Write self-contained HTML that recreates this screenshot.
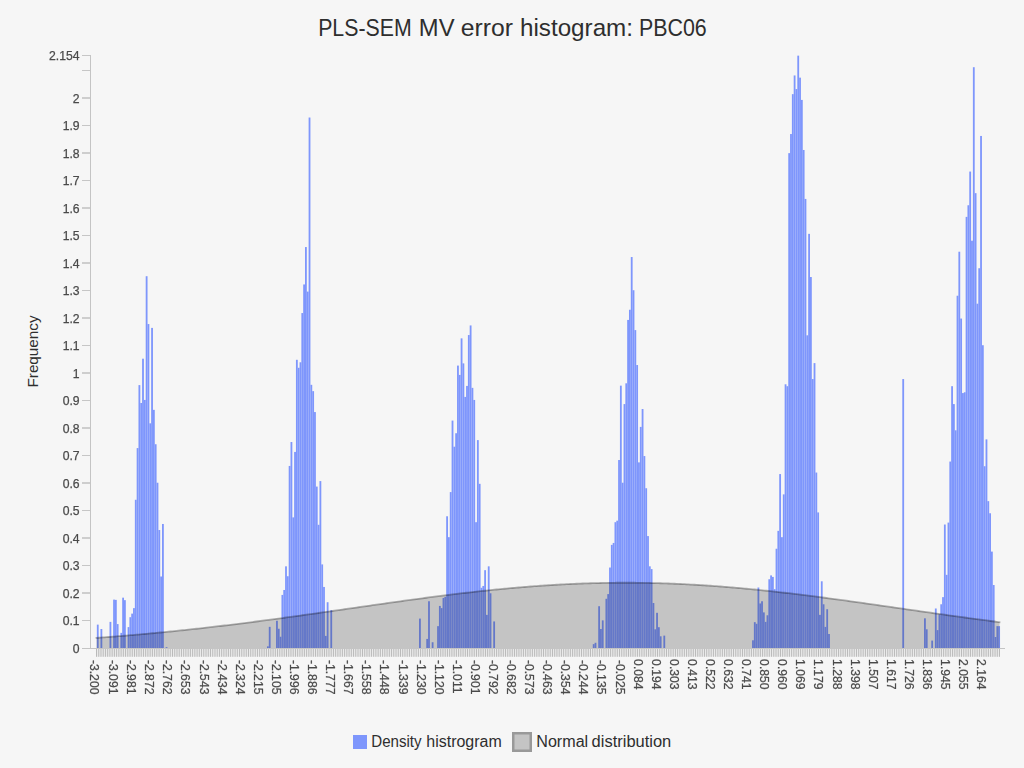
<!DOCTYPE html>
<html><head><meta charset="utf-8"><title>PLS-SEM MV error histogram: PBC06</title>
<style>html,body{margin:0;padding:0;background:#f6f6f6;overflow:hidden}svg{display:block}</style>
</head><body>
<svg width="1024" height="768" viewBox="0 0 1024 768" font-family='"Liberation Sans", sans-serif'>
<rect width="1024" height="768" fill="#f6f6f6"/>
<text x="318.15" y="35.75" font-size="24.6" fill="#2e2e2e" textLength="93.57" lengthAdjust="spacingAndGlyphs">PLS-SEM</text>
<text x="418.86" y="35.75" font-size="24.6" fill="#2e2e2e" textLength="35.68" lengthAdjust="spacingAndGlyphs">MV</text>
<text x="460.74" y="35.75" font-size="24.6" fill="#2e2e2e" textLength="52.22" lengthAdjust="spacingAndGlyphs">error</text>
<text x="519.98" y="35.75" font-size="24.6" fill="#2e2e2e" textLength="113.04" lengthAdjust="spacingAndGlyphs">histogram:</text>
<text x="638.90" y="35.75" font-size="24.6" fill="#2e2e2e" textLength="67.82" lengthAdjust="spacingAndGlyphs">PBC06</text>
<text transform="translate(38.1,351.5) rotate(-90)" text-anchor="middle" font-size="15.4" fill="#2e2e2e" textLength="72" lengthAdjust="spacingAndGlyphs">Frequency</text>
<g fill="#c4c4c4">
<rect x="90" y="55" width="1" height="594"/>
<rect x="82" y="648" width="923" height="1"/>
<rect x="82" y="620" width="8" height="1" fill="#c6c6c6"/>
<rect x="82" y="592" width="8" height="2" fill="#cecece"/>
<rect x="82" y="565" width="8" height="1" fill="#c6c6c6"/>
<rect x="82" y="537" width="8" height="2" fill="#cecece"/>
<rect x="82" y="510" width="8" height="1" fill="#c6c6c6"/>
<rect x="82" y="482" width="8" height="2" fill="#cecece"/>
<rect x="82" y="455" width="8" height="1" fill="#c6c6c6"/>
<rect x="82" y="427" width="8" height="2" fill="#cecece"/>
<rect x="82" y="400" width="8" height="1" fill="#c6c6c6"/>
<rect x="82" y="372" width="8" height="2" fill="#cecece"/>
<rect x="82" y="345" width="8" height="1" fill="#c6c6c6"/>
<rect x="82" y="317" width="8" height="2" fill="#cecece"/>
<rect x="82" y="290" width="8" height="1" fill="#c6c6c6"/>
<rect x="82" y="262" width="8" height="2" fill="#cecece"/>
<rect x="82" y="235" width="8" height="1" fill="#c6c6c6"/>
<rect x="82" y="207" width="8" height="2" fill="#cecece"/>
<rect x="82" y="180" width="8" height="1" fill="#c6c6c6"/>
<rect x="82" y="152" width="8" height="2" fill="#cecece"/>
<rect x="82" y="125" width="8" height="1" fill="#c6c6c6"/>
<rect x="82" y="97" width="8" height="2" fill="#cecece"/>
<rect x="82" y="70" width="8" height="1" fill="#c6c6c6"/>
<rect x="82" y="55" width="8" height="1" fill="#c6c6c6"/>
</g>
<g fill="#bababa">
<rect x="96.00" y="649" width="1" height="7.8"/>
<rect x="97.81" y="649" width="1" height="7.8"/>
<rect x="99.62" y="649" width="1" height="7.8"/>
<rect x="101.43" y="649" width="1" height="7.8"/>
<rect x="103.24" y="649" width="1" height="7.8"/>
<rect x="105.05" y="649" width="1" height="7.8"/>
<rect x="106.86" y="649" width="1" height="7.8"/>
<rect x="108.67" y="649" width="1" height="7.8"/>
<rect x="110.48" y="649" width="1" height="7.8"/>
<rect x="112.29" y="649" width="1" height="7.8"/>
<rect x="114.10" y="649" width="1" height="7.8"/>
<rect x="115.91" y="649" width="1" height="7.8"/>
<rect x="117.72" y="649" width="1" height="7.8"/>
<rect x="119.52" y="649" width="1" height="7.8"/>
<rect x="121.33" y="649" width="1" height="7.8"/>
<rect x="123.14" y="649" width="1" height="7.8"/>
<rect x="124.95" y="649" width="1" height="7.8"/>
<rect x="126.76" y="649" width="1" height="7.8"/>
<rect x="128.57" y="649" width="1" height="7.8"/>
<rect x="130.38" y="649" width="1" height="7.8"/>
<rect x="132.19" y="649" width="1" height="7.8"/>
<rect x="134.00" y="649" width="1" height="7.8"/>
<rect x="135.81" y="649" width="1" height="7.8"/>
<rect x="137.62" y="649" width="1" height="7.8"/>
<rect x="139.43" y="649" width="1" height="7.8"/>
<rect x="141.24" y="649" width="1" height="7.8"/>
<rect x="143.05" y="649" width="1" height="7.8"/>
<rect x="144.86" y="649" width="1" height="7.8"/>
<rect x="146.67" y="649" width="1" height="7.8"/>
<rect x="148.48" y="649" width="1" height="7.8"/>
<rect x="150.29" y="649" width="1" height="7.8"/>
<rect x="152.10" y="649" width="1" height="7.8"/>
<rect x="153.91" y="649" width="1" height="7.8"/>
<rect x="155.72" y="649" width="1" height="7.8"/>
<rect x="157.53" y="649" width="1" height="7.8"/>
<rect x="159.34" y="649" width="1" height="7.8"/>
<rect x="161.15" y="649" width="1" height="7.8"/>
<rect x="162.96" y="649" width="1" height="7.8"/>
<rect x="164.76" y="649" width="1" height="7.8"/>
<rect x="166.57" y="649" width="1" height="7.8"/>
<rect x="168.38" y="649" width="1" height="7.8"/>
<rect x="170.19" y="649" width="1" height="7.8"/>
<rect x="172.00" y="649" width="1" height="7.8"/>
<rect x="173.81" y="649" width="1" height="7.8"/>
<rect x="175.62" y="649" width="1" height="7.8"/>
<rect x="177.43" y="649" width="1" height="7.8"/>
<rect x="179.24" y="649" width="1" height="7.8"/>
<rect x="181.05" y="649" width="1" height="7.8"/>
<rect x="182.86" y="649" width="1" height="7.8"/>
<rect x="184.67" y="649" width="1" height="7.8"/>
<rect x="186.48" y="649" width="1" height="7.8"/>
<rect x="188.29" y="649" width="1" height="7.8"/>
<rect x="190.10" y="649" width="1" height="7.8"/>
<rect x="191.91" y="649" width="1" height="7.8"/>
<rect x="193.72" y="649" width="1" height="7.8"/>
<rect x="195.53" y="649" width="1" height="7.8"/>
<rect x="197.34" y="649" width="1" height="7.8"/>
<rect x="199.15" y="649" width="1" height="7.8"/>
<rect x="200.96" y="649" width="1" height="7.8"/>
<rect x="202.77" y="649" width="1" height="7.8"/>
<rect x="204.58" y="649" width="1" height="7.8"/>
<rect x="206.39" y="649" width="1" height="7.8"/>
<rect x="208.20" y="649" width="1" height="7.8"/>
<rect x="210.00" y="649" width="1" height="7.8"/>
<rect x="211.81" y="649" width="1" height="7.8"/>
<rect x="213.62" y="649" width="1" height="7.8"/>
<rect x="215.43" y="649" width="1" height="7.8"/>
<rect x="217.24" y="649" width="1" height="7.8"/>
<rect x="219.05" y="649" width="1" height="7.8"/>
<rect x="220.86" y="649" width="1" height="7.8"/>
<rect x="222.67" y="649" width="1" height="7.8"/>
<rect x="224.48" y="649" width="1" height="7.8"/>
<rect x="226.29" y="649" width="1" height="7.8"/>
<rect x="228.10" y="649" width="1" height="7.8"/>
<rect x="229.91" y="649" width="1" height="7.8"/>
<rect x="231.72" y="649" width="1" height="7.8"/>
<rect x="233.53" y="649" width="1" height="7.8"/>
<rect x="235.34" y="649" width="1" height="7.8"/>
<rect x="237.15" y="649" width="1" height="7.8"/>
<rect x="238.96" y="649" width="1" height="7.8"/>
<rect x="240.77" y="649" width="1" height="7.8"/>
<rect x="242.58" y="649" width="1" height="7.8"/>
<rect x="244.39" y="649" width="1" height="7.8"/>
<rect x="246.20" y="649" width="1" height="7.8"/>
<rect x="248.01" y="649" width="1" height="7.8"/>
<rect x="249.82" y="649" width="1" height="7.8"/>
<rect x="251.63" y="649" width="1" height="7.8"/>
<rect x="253.44" y="649" width="1" height="7.8"/>
<rect x="255.24" y="649" width="1" height="7.8"/>
<rect x="257.05" y="649" width="1" height="7.8"/>
<rect x="258.86" y="649" width="1" height="7.8"/>
<rect x="260.67" y="649" width="1" height="7.8"/>
<rect x="262.48" y="649" width="1" height="7.8"/>
<rect x="264.29" y="649" width="1" height="7.8"/>
<rect x="266.10" y="649" width="1" height="7.8"/>
<rect x="267.91" y="649" width="1" height="7.8"/>
<rect x="269.72" y="649" width="1" height="7.8"/>
<rect x="271.53" y="649" width="1" height="7.8"/>
<rect x="273.34" y="649" width="1" height="7.8"/>
<rect x="275.15" y="649" width="1" height="7.8"/>
<rect x="276.96" y="649" width="1" height="7.8"/>
<rect x="278.77" y="649" width="1" height="7.8"/>
<rect x="280.58" y="649" width="1" height="7.8"/>
<rect x="282.39" y="649" width="1" height="7.8"/>
<rect x="284.20" y="649" width="1" height="7.8"/>
<rect x="286.01" y="649" width="1" height="7.8"/>
<rect x="287.82" y="649" width="1" height="7.8"/>
<rect x="289.63" y="649" width="1" height="7.8"/>
<rect x="291.44" y="649" width="1" height="7.8"/>
<rect x="293.25" y="649" width="1" height="7.8"/>
<rect x="295.06" y="649" width="1" height="7.8"/>
<rect x="296.87" y="649" width="1" height="7.8"/>
<rect x="298.68" y="649" width="1" height="7.8"/>
<rect x="300.48" y="649" width="1" height="7.8"/>
<rect x="302.29" y="649" width="1" height="7.8"/>
<rect x="304.10" y="649" width="1" height="7.8"/>
<rect x="305.91" y="649" width="1" height="7.8"/>
<rect x="307.72" y="649" width="1" height="7.8"/>
<rect x="309.53" y="649" width="1" height="7.8"/>
<rect x="311.34" y="649" width="1" height="7.8"/>
<rect x="313.15" y="649" width="1" height="7.8"/>
<rect x="314.96" y="649" width="1" height="7.8"/>
<rect x="316.77" y="649" width="1" height="7.8"/>
<rect x="318.58" y="649" width="1" height="7.8"/>
<rect x="320.39" y="649" width="1" height="7.8"/>
<rect x="322.20" y="649" width="1" height="7.8"/>
<rect x="324.01" y="649" width="1" height="7.8"/>
<rect x="325.82" y="649" width="1" height="7.8"/>
<rect x="327.63" y="649" width="1" height="7.8"/>
<rect x="329.44" y="649" width="1" height="7.8"/>
<rect x="331.25" y="649" width="1" height="7.8"/>
<rect x="333.06" y="649" width="1" height="7.8"/>
<rect x="334.87" y="649" width="1" height="7.8"/>
<rect x="336.68" y="649" width="1" height="7.8"/>
<rect x="338.49" y="649" width="1" height="7.8"/>
<rect x="340.30" y="649" width="1" height="7.8"/>
<rect x="342.11" y="649" width="1" height="7.8"/>
<rect x="343.92" y="649" width="1" height="7.8"/>
<rect x="345.72" y="649" width="1" height="7.8"/>
<rect x="347.53" y="649" width="1" height="7.8"/>
<rect x="349.34" y="649" width="1" height="7.8"/>
<rect x="351.15" y="649" width="1" height="7.8"/>
<rect x="352.96" y="649" width="1" height="7.8"/>
<rect x="354.77" y="649" width="1" height="7.8"/>
<rect x="356.58" y="649" width="1" height="7.8"/>
<rect x="358.39" y="649" width="1" height="7.8"/>
<rect x="360.20" y="649" width="1" height="7.8"/>
<rect x="362.01" y="649" width="1" height="7.8"/>
<rect x="363.82" y="649" width="1" height="7.8"/>
<rect x="365.63" y="649" width="1" height="7.8"/>
<rect x="367.44" y="649" width="1" height="7.8"/>
<rect x="369.25" y="649" width="1" height="7.8"/>
<rect x="371.06" y="649" width="1" height="7.8"/>
<rect x="372.87" y="649" width="1" height="7.8"/>
<rect x="374.68" y="649" width="1" height="7.8"/>
<rect x="376.49" y="649" width="1" height="7.8"/>
<rect x="378.30" y="649" width="1" height="7.8"/>
<rect x="380.11" y="649" width="1" height="7.8"/>
<rect x="381.92" y="649" width="1" height="7.8"/>
<rect x="383.73" y="649" width="1" height="7.8"/>
<rect x="385.54" y="649" width="1" height="7.8"/>
<rect x="387.35" y="649" width="1" height="7.8"/>
<rect x="389.16" y="649" width="1" height="7.8"/>
<rect x="390.96" y="649" width="1" height="7.8"/>
<rect x="392.77" y="649" width="1" height="7.8"/>
<rect x="394.58" y="649" width="1" height="7.8"/>
<rect x="396.39" y="649" width="1" height="7.8"/>
<rect x="398.20" y="649" width="1" height="7.8"/>
<rect x="400.01" y="649" width="1" height="7.8"/>
<rect x="401.82" y="649" width="1" height="7.8"/>
<rect x="403.63" y="649" width="1" height="7.8"/>
<rect x="405.44" y="649" width="1" height="7.8"/>
<rect x="407.25" y="649" width="1" height="7.8"/>
<rect x="409.06" y="649" width="1" height="7.8"/>
<rect x="410.87" y="649" width="1" height="7.8"/>
<rect x="412.68" y="649" width="1" height="7.8"/>
<rect x="414.49" y="649" width="1" height="7.8"/>
<rect x="416.30" y="649" width="1" height="7.8"/>
<rect x="418.11" y="649" width="1" height="7.8"/>
<rect x="419.92" y="649" width="1" height="7.8"/>
<rect x="421.73" y="649" width="1" height="7.8"/>
<rect x="423.54" y="649" width="1" height="7.8"/>
<rect x="425.35" y="649" width="1" height="7.8"/>
<rect x="427.16" y="649" width="1" height="7.8"/>
<rect x="428.97" y="649" width="1" height="7.8"/>
<rect x="430.78" y="649" width="1" height="7.8"/>
<rect x="432.59" y="649" width="1" height="7.8"/>
<rect x="434.40" y="649" width="1" height="7.8"/>
<rect x="436.20" y="649" width="1" height="7.8"/>
<rect x="438.01" y="649" width="1" height="7.8"/>
<rect x="439.82" y="649" width="1" height="7.8"/>
<rect x="441.63" y="649" width="1" height="7.8"/>
<rect x="443.44" y="649" width="1" height="7.8"/>
<rect x="445.25" y="649" width="1" height="7.8"/>
<rect x="447.06" y="649" width="1" height="7.8"/>
<rect x="448.87" y="649" width="1" height="7.8"/>
<rect x="450.68" y="649" width="1" height="7.8"/>
<rect x="452.49" y="649" width="1" height="7.8"/>
<rect x="454.30" y="649" width="1" height="7.8"/>
<rect x="456.11" y="649" width="1" height="7.8"/>
<rect x="457.92" y="649" width="1" height="7.8"/>
<rect x="459.73" y="649" width="1" height="7.8"/>
<rect x="461.54" y="649" width="1" height="7.8"/>
<rect x="463.35" y="649" width="1" height="7.8"/>
<rect x="465.16" y="649" width="1" height="7.8"/>
<rect x="466.97" y="649" width="1" height="7.8"/>
<rect x="468.78" y="649" width="1" height="7.8"/>
<rect x="470.59" y="649" width="1" height="7.8"/>
<rect x="472.40" y="649" width="1" height="7.8"/>
<rect x="474.21" y="649" width="1" height="7.8"/>
<rect x="476.02" y="649" width="1" height="7.8"/>
<rect x="477.83" y="649" width="1" height="7.8"/>
<rect x="479.64" y="649" width="1" height="7.8"/>
<rect x="481.44" y="649" width="1" height="7.8"/>
<rect x="483.25" y="649" width="1" height="7.8"/>
<rect x="485.06" y="649" width="1" height="7.8"/>
<rect x="486.87" y="649" width="1" height="7.8"/>
<rect x="488.68" y="649" width="1" height="7.8"/>
<rect x="490.49" y="649" width="1" height="7.8"/>
<rect x="492.30" y="649" width="1" height="7.8"/>
<rect x="494.11" y="649" width="1" height="7.8"/>
<rect x="495.92" y="649" width="1" height="7.8"/>
<rect x="497.73" y="649" width="1" height="7.8"/>
<rect x="499.54" y="649" width="1" height="7.8"/>
<rect x="501.35" y="649" width="1" height="7.8"/>
<rect x="503.16" y="649" width="1" height="7.8"/>
<rect x="504.97" y="649" width="1" height="7.8"/>
<rect x="506.78" y="649" width="1" height="7.8"/>
<rect x="508.59" y="649" width="1" height="7.8"/>
<rect x="510.40" y="649" width="1" height="7.8"/>
<rect x="512.21" y="649" width="1" height="7.8"/>
<rect x="514.02" y="649" width="1" height="7.8"/>
<rect x="515.83" y="649" width="1" height="7.8"/>
<rect x="517.64" y="649" width="1" height="7.8"/>
<rect x="519.45" y="649" width="1" height="7.8"/>
<rect x="521.26" y="649" width="1" height="7.8"/>
<rect x="523.07" y="649" width="1" height="7.8"/>
<rect x="524.88" y="649" width="1" height="7.8"/>
<rect x="526.68" y="649" width="1" height="7.8"/>
<rect x="528.49" y="649" width="1" height="7.8"/>
<rect x="530.30" y="649" width="1" height="7.8"/>
<rect x="532.11" y="649" width="1" height="7.8"/>
<rect x="533.92" y="649" width="1" height="7.8"/>
<rect x="535.73" y="649" width="1" height="7.8"/>
<rect x="537.54" y="649" width="1" height="7.8"/>
<rect x="539.35" y="649" width="1" height="7.8"/>
<rect x="541.16" y="649" width="1" height="7.8"/>
<rect x="542.97" y="649" width="1" height="7.8"/>
<rect x="544.78" y="649" width="1" height="7.8"/>
<rect x="546.59" y="649" width="1" height="7.8"/>
<rect x="548.40" y="649" width="1" height="7.8"/>
<rect x="550.21" y="649" width="1" height="7.8"/>
<rect x="552.02" y="649" width="1" height="7.8"/>
<rect x="553.83" y="649" width="1" height="7.8"/>
<rect x="555.64" y="649" width="1" height="7.8"/>
<rect x="557.45" y="649" width="1" height="7.8"/>
<rect x="559.26" y="649" width="1" height="7.8"/>
<rect x="561.07" y="649" width="1" height="7.8"/>
<rect x="562.88" y="649" width="1" height="7.8"/>
<rect x="564.69" y="649" width="1" height="7.8"/>
<rect x="566.50" y="649" width="1" height="7.8"/>
<rect x="568.31" y="649" width="1" height="7.8"/>
<rect x="570.12" y="649" width="1" height="7.8"/>
<rect x="571.92" y="649" width="1" height="7.8"/>
<rect x="573.73" y="649" width="1" height="7.8"/>
<rect x="575.54" y="649" width="1" height="7.8"/>
<rect x="577.35" y="649" width="1" height="7.8"/>
<rect x="579.16" y="649" width="1" height="7.8"/>
<rect x="580.97" y="649" width="1" height="7.8"/>
<rect x="582.78" y="649" width="1" height="7.8"/>
<rect x="584.59" y="649" width="1" height="7.8"/>
<rect x="586.40" y="649" width="1" height="7.8"/>
<rect x="588.21" y="649" width="1" height="7.8"/>
<rect x="590.02" y="649" width="1" height="7.8"/>
<rect x="591.83" y="649" width="1" height="7.8"/>
<rect x="593.64" y="649" width="1" height="7.8"/>
<rect x="595.45" y="649" width="1" height="7.8"/>
<rect x="597.26" y="649" width="1" height="7.8"/>
<rect x="599.07" y="649" width="1" height="7.8"/>
<rect x="600.88" y="649" width="1" height="7.8"/>
<rect x="602.69" y="649" width="1" height="7.8"/>
<rect x="604.50" y="649" width="1" height="7.8"/>
<rect x="606.31" y="649" width="1" height="7.8"/>
<rect x="608.12" y="649" width="1" height="7.8"/>
<rect x="609.93" y="649" width="1" height="7.8"/>
<rect x="611.74" y="649" width="1" height="7.8"/>
<rect x="613.55" y="649" width="1" height="7.8"/>
<rect x="615.36" y="649" width="1" height="7.8"/>
<rect x="617.16" y="649" width="1" height="7.8"/>
<rect x="618.97" y="649" width="1" height="7.8"/>
<rect x="620.78" y="649" width="1" height="7.8"/>
<rect x="622.59" y="649" width="1" height="7.8"/>
<rect x="624.40" y="649" width="1" height="7.8"/>
<rect x="626.21" y="649" width="1" height="7.8"/>
<rect x="628.02" y="649" width="1" height="7.8"/>
<rect x="629.83" y="649" width="1" height="7.8"/>
<rect x="631.64" y="649" width="1" height="7.8"/>
<rect x="633.45" y="649" width="1" height="7.8"/>
<rect x="635.26" y="649" width="1" height="7.8"/>
<rect x="637.07" y="649" width="1" height="7.8"/>
<rect x="638.88" y="649" width="1" height="7.8"/>
<rect x="640.69" y="649" width="1" height="7.8"/>
<rect x="642.50" y="649" width="1" height="7.8"/>
<rect x="644.31" y="649" width="1" height="7.8"/>
<rect x="646.12" y="649" width="1" height="7.8"/>
<rect x="647.93" y="649" width="1" height="7.8"/>
<rect x="649.74" y="649" width="1" height="7.8"/>
<rect x="651.55" y="649" width="1" height="7.8"/>
<rect x="653.36" y="649" width="1" height="7.8"/>
<rect x="655.17" y="649" width="1" height="7.8"/>
<rect x="656.98" y="649" width="1" height="7.8"/>
<rect x="658.79" y="649" width="1" height="7.8"/>
<rect x="660.60" y="649" width="1" height="7.8"/>
<rect x="662.40" y="649" width="1" height="7.8"/>
<rect x="664.21" y="649" width="1" height="7.8"/>
<rect x="666.02" y="649" width="1" height="7.8"/>
<rect x="667.83" y="649" width="1" height="7.8"/>
<rect x="669.64" y="649" width="1" height="7.8"/>
<rect x="671.45" y="649" width="1" height="7.8"/>
<rect x="673.26" y="649" width="1" height="7.8"/>
<rect x="675.07" y="649" width="1" height="7.8"/>
<rect x="676.88" y="649" width="1" height="7.8"/>
<rect x="678.69" y="649" width="1" height="7.8"/>
<rect x="680.50" y="649" width="1" height="7.8"/>
<rect x="682.31" y="649" width="1" height="7.8"/>
<rect x="684.12" y="649" width="1" height="7.8"/>
<rect x="685.93" y="649" width="1" height="7.8"/>
<rect x="687.74" y="649" width="1" height="7.8"/>
<rect x="689.55" y="649" width="1" height="7.8"/>
<rect x="691.36" y="649" width="1" height="7.8"/>
<rect x="693.17" y="649" width="1" height="7.8"/>
<rect x="694.98" y="649" width="1" height="7.8"/>
<rect x="696.79" y="649" width="1" height="7.8"/>
<rect x="698.60" y="649" width="1" height="7.8"/>
<rect x="700.41" y="649" width="1" height="7.8"/>
<rect x="702.22" y="649" width="1" height="7.8"/>
<rect x="704.03" y="649" width="1" height="7.8"/>
<rect x="705.84" y="649" width="1" height="7.8"/>
<rect x="707.64" y="649" width="1" height="7.8"/>
<rect x="709.45" y="649" width="1" height="7.8"/>
<rect x="711.26" y="649" width="1" height="7.8"/>
<rect x="713.07" y="649" width="1" height="7.8"/>
<rect x="714.88" y="649" width="1" height="7.8"/>
<rect x="716.69" y="649" width="1" height="7.8"/>
<rect x="718.50" y="649" width="1" height="7.8"/>
<rect x="720.31" y="649" width="1" height="7.8"/>
<rect x="722.12" y="649" width="1" height="7.8"/>
<rect x="723.93" y="649" width="1" height="7.8"/>
<rect x="725.74" y="649" width="1" height="7.8"/>
<rect x="727.55" y="649" width="1" height="7.8"/>
<rect x="729.36" y="649" width="1" height="7.8"/>
<rect x="731.17" y="649" width="1" height="7.8"/>
<rect x="732.98" y="649" width="1" height="7.8"/>
<rect x="734.79" y="649" width="1" height="7.8"/>
<rect x="736.60" y="649" width="1" height="7.8"/>
<rect x="738.41" y="649" width="1" height="7.8"/>
<rect x="740.22" y="649" width="1" height="7.8"/>
<rect x="742.03" y="649" width="1" height="7.8"/>
<rect x="743.84" y="649" width="1" height="7.8"/>
<rect x="745.65" y="649" width="1" height="7.8"/>
<rect x="747.46" y="649" width="1" height="7.8"/>
<rect x="749.27" y="649" width="1" height="7.8"/>
<rect x="751.08" y="649" width="1" height="7.8"/>
<rect x="752.88" y="649" width="1" height="7.8"/>
<rect x="754.69" y="649" width="1" height="7.8"/>
<rect x="756.50" y="649" width="1" height="7.8"/>
<rect x="758.31" y="649" width="1" height="7.8"/>
<rect x="760.12" y="649" width="1" height="7.8"/>
<rect x="761.93" y="649" width="1" height="7.8"/>
<rect x="763.74" y="649" width="1" height="7.8"/>
<rect x="765.55" y="649" width="1" height="7.8"/>
<rect x="767.36" y="649" width="1" height="7.8"/>
<rect x="769.17" y="649" width="1" height="7.8"/>
<rect x="770.98" y="649" width="1" height="7.8"/>
<rect x="772.79" y="649" width="1" height="7.8"/>
<rect x="774.60" y="649" width="1" height="7.8"/>
<rect x="776.41" y="649" width="1" height="7.8"/>
<rect x="778.22" y="649" width="1" height="7.8"/>
<rect x="780.03" y="649" width="1" height="7.8"/>
<rect x="781.84" y="649" width="1" height="7.8"/>
<rect x="783.65" y="649" width="1" height="7.8"/>
<rect x="785.46" y="649" width="1" height="7.8"/>
<rect x="787.27" y="649" width="1" height="7.8"/>
<rect x="789.08" y="649" width="1" height="7.8"/>
<rect x="790.89" y="649" width="1" height="7.8"/>
<rect x="792.70" y="649" width="1" height="7.8"/>
<rect x="794.51" y="649" width="1" height="7.8"/>
<rect x="796.32" y="649" width="1" height="7.8"/>
<rect x="798.12" y="649" width="1" height="7.8"/>
<rect x="799.93" y="649" width="1" height="7.8"/>
<rect x="801.74" y="649" width="1" height="7.8"/>
<rect x="803.55" y="649" width="1" height="7.8"/>
<rect x="805.36" y="649" width="1" height="7.8"/>
<rect x="807.17" y="649" width="1" height="7.8"/>
<rect x="808.98" y="649" width="1" height="7.8"/>
<rect x="810.79" y="649" width="1" height="7.8"/>
<rect x="812.60" y="649" width="1" height="7.8"/>
<rect x="814.41" y="649" width="1" height="7.8"/>
<rect x="816.22" y="649" width="1" height="7.8"/>
<rect x="818.03" y="649" width="1" height="7.8"/>
<rect x="819.84" y="649" width="1" height="7.8"/>
<rect x="821.65" y="649" width="1" height="7.8"/>
<rect x="823.46" y="649" width="1" height="7.8"/>
<rect x="825.27" y="649" width="1" height="7.8"/>
<rect x="827.08" y="649" width="1" height="7.8"/>
<rect x="828.89" y="649" width="1" height="7.8"/>
<rect x="830.70" y="649" width="1" height="7.8"/>
<rect x="832.51" y="649" width="1" height="7.8"/>
<rect x="834.32" y="649" width="1" height="7.8"/>
<rect x="836.13" y="649" width="1" height="7.8"/>
<rect x="837.94" y="649" width="1" height="7.8"/>
<rect x="839.75" y="649" width="1" height="7.8"/>
<rect x="841.56" y="649" width="1" height="7.8"/>
<rect x="843.36" y="649" width="1" height="7.8"/>
<rect x="845.17" y="649" width="1" height="7.8"/>
<rect x="846.98" y="649" width="1" height="7.8"/>
<rect x="848.79" y="649" width="1" height="7.8"/>
<rect x="850.60" y="649" width="1" height="7.8"/>
<rect x="852.41" y="649" width="1" height="7.8"/>
<rect x="854.22" y="649" width="1" height="7.8"/>
<rect x="856.03" y="649" width="1" height="7.8"/>
<rect x="857.84" y="649" width="1" height="7.8"/>
<rect x="859.65" y="649" width="1" height="7.8"/>
<rect x="861.46" y="649" width="1" height="7.8"/>
<rect x="863.27" y="649" width="1" height="7.8"/>
<rect x="865.08" y="649" width="1" height="7.8"/>
<rect x="866.89" y="649" width="1" height="7.8"/>
<rect x="868.70" y="649" width="1" height="7.8"/>
<rect x="870.51" y="649" width="1" height="7.8"/>
<rect x="872.32" y="649" width="1" height="7.8"/>
<rect x="874.13" y="649" width="1" height="7.8"/>
<rect x="875.94" y="649" width="1" height="7.8"/>
<rect x="877.75" y="649" width="1" height="7.8"/>
<rect x="879.56" y="649" width="1" height="7.8"/>
<rect x="881.37" y="649" width="1" height="7.8"/>
<rect x="883.18" y="649" width="1" height="7.8"/>
<rect x="884.99" y="649" width="1" height="7.8"/>
<rect x="886.80" y="649" width="1" height="7.8"/>
<rect x="888.60" y="649" width="1" height="7.8"/>
<rect x="890.41" y="649" width="1" height="7.8"/>
<rect x="892.22" y="649" width="1" height="7.8"/>
<rect x="894.03" y="649" width="1" height="7.8"/>
<rect x="895.84" y="649" width="1" height="7.8"/>
<rect x="897.65" y="649" width="1" height="7.8"/>
<rect x="899.46" y="649" width="1" height="7.8"/>
<rect x="901.27" y="649" width="1" height="7.8"/>
<rect x="903.08" y="649" width="1" height="7.8"/>
<rect x="904.89" y="649" width="1" height="7.8"/>
<rect x="906.70" y="649" width="1" height="7.8"/>
<rect x="908.51" y="649" width="1" height="7.8"/>
<rect x="910.32" y="649" width="1" height="7.8"/>
<rect x="912.13" y="649" width="1" height="7.8"/>
<rect x="913.94" y="649" width="1" height="7.8"/>
<rect x="915.75" y="649" width="1" height="7.8"/>
<rect x="917.56" y="649" width="1" height="7.8"/>
<rect x="919.37" y="649" width="1" height="7.8"/>
<rect x="921.18" y="649" width="1" height="7.8"/>
<rect x="922.99" y="649" width="1" height="7.8"/>
<rect x="924.80" y="649" width="1" height="7.8"/>
<rect x="926.61" y="649" width="1" height="7.8"/>
<rect x="928.42" y="649" width="1" height="7.8"/>
<rect x="930.23" y="649" width="1" height="7.8"/>
<rect x="932.04" y="649" width="1" height="7.8"/>
<rect x="933.84" y="649" width="1" height="7.8"/>
<rect x="935.65" y="649" width="1" height="7.8"/>
<rect x="937.46" y="649" width="1" height="7.8"/>
<rect x="939.27" y="649" width="1" height="7.8"/>
<rect x="941.08" y="649" width="1" height="7.8"/>
<rect x="942.89" y="649" width="1" height="7.8"/>
<rect x="944.70" y="649" width="1" height="7.8"/>
<rect x="946.51" y="649" width="1" height="7.8"/>
<rect x="948.32" y="649" width="1" height="7.8"/>
<rect x="950.13" y="649" width="1" height="7.8"/>
<rect x="951.94" y="649" width="1" height="7.8"/>
<rect x="953.75" y="649" width="1" height="7.8"/>
<rect x="955.56" y="649" width="1" height="7.8"/>
<rect x="957.37" y="649" width="1" height="7.8"/>
<rect x="959.18" y="649" width="1" height="7.8"/>
<rect x="960.99" y="649" width="1" height="7.8"/>
<rect x="962.80" y="649" width="1" height="7.8"/>
<rect x="964.61" y="649" width="1" height="7.8"/>
<rect x="966.42" y="649" width="1" height="7.8"/>
<rect x="968.23" y="649" width="1" height="7.8"/>
<rect x="970.04" y="649" width="1" height="7.8"/>
<rect x="971.85" y="649" width="1" height="7.8"/>
<rect x="973.66" y="649" width="1" height="7.8"/>
<rect x="975.47" y="649" width="1" height="7.8"/>
<rect x="977.28" y="649" width="1" height="7.8"/>
<rect x="979.08" y="649" width="1" height="7.8"/>
<rect x="980.89" y="649" width="1" height="7.8"/>
<rect x="982.70" y="649" width="1" height="7.8"/>
<rect x="984.51" y="649" width="1" height="7.8"/>
<rect x="986.32" y="649" width="1" height="7.8"/>
<rect x="988.13" y="649" width="1" height="7.8"/>
<rect x="989.94" y="649" width="1" height="7.8"/>
<rect x="991.75" y="649" width="1" height="7.8"/>
<rect x="993.56" y="649" width="1" height="7.8"/>
<rect x="995.37" y="649" width="1" height="7.8"/>
<rect x="997.18" y="649" width="1" height="7.8"/>
<rect x="998.99" y="649" width="1" height="7.8"/>
</g>
<g fill="#7e96fc">
<rect x="96.85" y="624.62" width="1.81" height="23.38"/>
<rect x="100.47" y="629.02" width="1.81" height="18.98"/>
<rect x="109.52" y="621.88" width="1.81" height="26.12"/>
<rect x="113.14" y="599.60" width="1.81" height="48.40"/>
<rect x="114.95" y="599.88" width="1.81" height="48.12"/>
<rect x="116.76" y="624.08" width="1.81" height="23.92"/>
<rect x="120.38" y="632.88" width="1.81" height="15.12"/>
<rect x="122.19" y="597.67" width="1.81" height="50.32"/>
<rect x="124.00" y="600.15" width="1.81" height="47.85"/>
<rect x="127.62" y="627.10" width="1.81" height="20.90"/>
<rect x="129.43" y="617.20" width="1.81" height="30.80"/>
<rect x="131.24" y="613.62" width="1.81" height="34.38"/>
<rect x="133.05" y="608.12" width="1.81" height="39.88"/>
<rect x="134.86" y="499.77" width="1.81" height="148.23"/>
<rect x="136.67" y="448.08" width="1.81" height="199.92"/>
<rect x="138.48" y="385.10" width="1.81" height="262.90"/>
<rect x="140.29" y="402.98" width="1.81" height="245.03"/>
<rect x="142.10" y="358.70" width="1.81" height="289.30"/>
<rect x="143.91" y="399.95" width="1.81" height="248.05"/>
<rect x="145.72" y="276.20" width="1.81" height="371.80"/>
<rect x="147.53" y="324.05" width="1.81" height="323.95"/>
<rect x="149.34" y="423.33" width="1.81" height="224.67"/>
<rect x="151.15" y="327.90" width="1.81" height="320.10"/>
<rect x="152.96" y="409.85" width="1.81" height="238.15"/>
<rect x="154.77" y="444.23" width="1.81" height="203.78"/>
<rect x="156.58" y="482.73" width="1.81" height="165.28"/>
<rect x="158.39" y="530.02" width="1.81" height="117.97"/>
<rect x="160.20" y="576.50" width="1.81" height="71.50"/>
<rect x="162.01" y="523.98" width="1.81" height="124.03"/>
<rect x="165.63" y="647.17" width="1.81" height="0.83"/>
<rect x="266.99" y="646.35" width="1.81" height="1.65"/>
<rect x="268.80" y="626.83" width="1.81" height="21.18"/>
<rect x="276.04" y="620.77" width="1.81" height="27.23"/>
<rect x="277.85" y="628.75" width="1.81" height="19.25"/>
<rect x="279.66" y="636.73" width="1.81" height="11.28"/>
<rect x="281.47" y="594.92" width="1.81" height="53.08"/>
<rect x="283.28" y="589.98" width="1.81" height="58.02"/>
<rect x="285.09" y="566.33" width="1.81" height="81.67"/>
<rect x="286.90" y="576.23" width="1.81" height="71.78"/>
<rect x="288.71" y="465.95" width="1.81" height="182.05"/>
<rect x="290.52" y="442.02" width="1.81" height="205.97"/>
<rect x="292.33" y="517.38" width="1.81" height="130.62"/>
<rect x="294.14" y="451.93" width="1.81" height="196.07"/>
<rect x="295.95" y="359.80" width="1.81" height="288.20"/>
<rect x="297.76" y="367.78" width="1.81" height="280.22"/>
<rect x="299.57" y="362.28" width="1.81" height="285.72"/>
<rect x="301.38" y="313.05" width="1.81" height="334.95"/>
<rect x="303.19" y="284.45" width="1.81" height="363.55"/>
<rect x="305.00" y="247.05" width="1.81" height="400.95"/>
<rect x="306.81" y="291.60" width="1.81" height="356.40"/>
<rect x="308.62" y="117.52" width="1.81" height="530.48"/>
<rect x="310.43" y="384.82" width="1.81" height="263.18"/>
<rect x="312.24" y="391.15" width="1.81" height="256.85"/>
<rect x="314.05" y="412.05" width="1.81" height="235.95"/>
<rect x="315.86" y="486.58" width="1.81" height="161.42"/>
<rect x="317.67" y="524.80" width="1.81" height="123.20"/>
<rect x="319.48" y="481.08" width="1.81" height="166.92"/>
<rect x="321.29" y="564.40" width="1.81" height="83.60"/>
<rect x="323.10" y="586.95" width="1.81" height="61.05"/>
<rect x="324.91" y="635.90" width="1.81" height="12.10"/>
<rect x="326.72" y="602.21" width="1.81" height="45.79"/>
<rect x="330.34" y="610.19" width="1.81" height="37.81"/>
<rect x="419.03" y="618.58" width="1.81" height="29.43"/>
<rect x="426.27" y="638.92" width="1.81" height="9.08"/>
<rect x="428.08" y="601.25" width="1.81" height="46.75"/>
<rect x="431.70" y="642.23" width="1.81" height="5.78"/>
<rect x="437.13" y="626.14" width="1.81" height="21.86"/>
<rect x="438.94" y="605.92" width="1.81" height="42.07"/>
<rect x="440.75" y="608.12" width="1.81" height="39.88"/>
<rect x="442.56" y="597.95" width="1.81" height="50.05"/>
<rect x="444.37" y="596.85" width="1.81" height="51.15"/>
<rect x="446.18" y="516.27" width="1.81" height="131.72"/>
<rect x="447.99" y="537.17" width="1.81" height="110.83"/>
<rect x="449.80" y="492.08" width="1.81" height="155.92"/>
<rect x="451.61" y="420.58" width="1.81" height="227.42"/>
<rect x="453.42" y="446.70" width="1.81" height="201.30"/>
<rect x="455.23" y="433.23" width="1.81" height="214.78"/>
<rect x="457.04" y="365.58" width="1.81" height="282.42"/>
<rect x="458.85" y="374.93" width="1.81" height="273.07"/>
<rect x="460.66" y="338.35" width="1.81" height="309.65"/>
<rect x="462.47" y="363.38" width="1.81" height="284.62"/>
<rect x="464.28" y="396.92" width="1.81" height="251.08"/>
<rect x="466.09" y="385.93" width="1.81" height="262.07"/>
<rect x="467.90" y="335.05" width="1.81" height="312.95"/>
<rect x="469.71" y="325.43" width="1.81" height="322.57"/>
<rect x="471.52" y="387.85" width="1.81" height="260.15"/>
<rect x="473.33" y="399.95" width="1.81" height="248.05"/>
<rect x="475.14" y="522.19" width="1.81" height="125.81"/>
<rect x="476.95" y="440.10" width="1.81" height="207.90"/>
<rect x="478.76" y="483.83" width="1.81" height="164.17"/>
<rect x="480.57" y="587.77" width="1.81" height="60.23"/>
<rect x="482.38" y="585.96" width="1.81" height="62.04"/>
<rect x="484.19" y="570.17" width="1.81" height="77.82"/>
<rect x="486.00" y="614.86" width="1.81" height="33.14"/>
<rect x="487.81" y="566.33" width="1.81" height="81.67"/>
<rect x="489.62" y="593.27" width="1.81" height="54.73"/>
<rect x="493.24" y="621.43" width="1.81" height="26.57"/>
<rect x="592.79" y="644.15" width="1.81" height="3.85"/>
<rect x="594.60" y="642.77" width="1.81" height="5.22"/>
<rect x="598.22" y="606.20" width="1.81" height="41.80"/>
<rect x="600.03" y="629.02" width="1.81" height="18.98"/>
<rect x="601.84" y="620.34" width="1.81" height="27.66"/>
<rect x="605.46" y="598.77" width="1.81" height="49.23"/>
<rect x="607.27" y="594.10" width="1.81" height="53.90"/>
<rect x="609.08" y="567.53" width="1.81" height="80.47"/>
<rect x="610.89" y="544.88" width="1.81" height="103.12"/>
<rect x="612.70" y="542.95" width="1.81" height="105.05"/>
<rect x="614.51" y="522.19" width="1.81" height="125.81"/>
<rect x="616.32" y="520.67" width="1.81" height="127.33"/>
<rect x="618.13" y="460.01" width="1.81" height="187.99"/>
<rect x="619.94" y="385.65" width="1.81" height="262.35"/>
<rect x="621.75" y="482.73" width="1.81" height="165.28"/>
<rect x="623.56" y="404.07" width="1.81" height="243.93"/>
<rect x="625.37" y="383.29" width="1.81" height="264.71"/>
<rect x="627.18" y="319.93" width="1.81" height="328.07"/>
<rect x="628.99" y="309.75" width="1.81" height="338.25"/>
<rect x="630.80" y="257.03" width="1.81" height="390.97"/>
<rect x="632.61" y="290.23" width="1.81" height="357.77"/>
<rect x="634.42" y="330.10" width="1.81" height="317.90"/>
<rect x="636.23" y="365.03" width="1.81" height="282.97"/>
<rect x="638.04" y="462.38" width="1.81" height="185.62"/>
<rect x="639.85" y="426.90" width="1.81" height="221.10"/>
<rect x="641.66" y="409.02" width="1.81" height="238.97"/>
<rect x="643.47" y="456.05" width="1.81" height="191.95"/>
<rect x="645.28" y="488.23" width="1.81" height="159.77"/>
<rect x="647.09" y="536.08" width="1.81" height="111.92"/>
<rect x="648.90" y="566.33" width="1.81" height="81.67"/>
<rect x="650.71" y="569.08" width="1.81" height="78.92"/>
<rect x="652.52" y="603.01" width="1.81" height="44.99"/>
<rect x="654.33" y="629.30" width="1.81" height="18.70"/>
<rect x="656.14" y="612.80" width="1.81" height="35.20"/>
<rect x="657.95" y="627.21" width="1.81" height="20.79"/>
<rect x="659.76" y="636.28" width="1.81" height="11.71"/>
<rect x="663.38" y="635.62" width="1.81" height="12.38"/>
<rect x="752.07" y="640.30" width="1.81" height="7.70"/>
<rect x="753.88" y="622.15" width="1.81" height="25.85"/>
<rect x="755.69" y="623.80" width="1.81" height="24.20"/>
<rect x="757.50" y="587.50" width="1.81" height="60.50"/>
<rect x="759.31" y="603.45" width="1.81" height="44.55"/>
<rect x="761.12" y="601.25" width="1.81" height="46.75"/>
<rect x="762.93" y="612.39" width="1.81" height="35.61"/>
<rect x="764.74" y="621.88" width="1.81" height="26.12"/>
<rect x="766.55" y="615.27" width="1.81" height="32.73"/>
<rect x="768.36" y="579.25" width="1.81" height="68.75"/>
<rect x="770.17" y="575.40" width="1.81" height="72.60"/>
<rect x="771.98" y="576.91" width="1.81" height="71.09"/>
<rect x="773.79" y="589.15" width="1.81" height="58.85"/>
<rect x="775.60" y="548.73" width="1.81" height="99.27"/>
<rect x="777.41" y="530.85" width="1.81" height="117.15"/>
<rect x="779.22" y="474.06" width="1.81" height="173.94"/>
<rect x="781.03" y="537.17" width="1.81" height="110.83"/>
<rect x="782.84" y="494.38" width="1.81" height="153.62"/>
<rect x="784.65" y="384.28" width="1.81" height="263.72"/>
<rect x="786.46" y="386.20" width="1.81" height="261.80"/>
<rect x="788.27" y="153.14" width="1.81" height="494.86"/>
<rect x="790.08" y="134.02" width="1.81" height="513.98"/>
<rect x="791.89" y="94.15" width="1.81" height="553.85"/>
<rect x="793.70" y="75.45" width="1.81" height="572.55"/>
<rect x="795.51" y="89.06" width="1.81" height="558.94"/>
<rect x="797.32" y="55.65" width="1.81" height="592.35"/>
<rect x="799.13" y="77.65" width="1.81" height="570.35"/>
<rect x="800.94" y="99.92" width="1.81" height="548.08"/>
<rect x="802.75" y="149.98" width="1.81" height="498.02"/>
<rect x="804.56" y="198.93" width="1.81" height="449.07"/>
<rect x="806.37" y="335.32" width="1.81" height="312.68"/>
<rect x="808.18" y="233.85" width="1.81" height="414.15"/>
<rect x="809.99" y="277.03" width="1.81" height="370.97"/>
<rect x="811.80" y="379.05" width="1.81" height="268.95"/>
<rect x="813.61" y="363.10" width="1.81" height="284.90"/>
<rect x="815.42" y="472.55" width="1.81" height="175.45"/>
<rect x="817.23" y="512.42" width="1.81" height="135.57"/>
<rect x="819.04" y="614.86" width="1.81" height="33.14"/>
<rect x="820.85" y="581.28" width="1.81" height="66.72"/>
<rect x="822.66" y="604.27" width="1.81" height="43.73"/>
<rect x="824.47" y="626.91" width="1.81" height="21.09"/>
<rect x="826.28" y="609.23" width="1.81" height="38.77"/>
<rect x="828.09" y="633.98" width="1.81" height="14.02"/>
<rect x="902.30" y="379.05" width="1.81" height="268.95"/>
<rect x="924.02" y="618.30" width="1.81" height="29.70"/>
<rect x="925.83" y="629.30" width="1.81" height="18.70"/>
<rect x="931.26" y="640.58" width="1.81" height="7.42"/>
<rect x="934.88" y="608.48" width="1.81" height="39.52"/>
<rect x="936.69" y="630.12" width="1.81" height="17.88"/>
<rect x="938.50" y="614.45" width="1.81" height="33.55"/>
<rect x="940.31" y="604.27" width="1.81" height="43.73"/>
<rect x="942.12" y="597.12" width="1.81" height="50.88"/>
<rect x="943.93" y="524.52" width="1.81" height="123.48"/>
<rect x="945.74" y="574.85" width="1.81" height="73.15"/>
<rect x="947.55" y="522.60" width="1.81" height="125.40"/>
<rect x="949.36" y="461.55" width="1.81" height="186.45"/>
<rect x="951.17" y="386.20" width="1.81" height="261.80"/>
<rect x="952.98" y="404.07" width="1.81" height="243.93"/>
<rect x="954.79" y="430.31" width="1.81" height="217.69"/>
<rect x="956.60" y="295.73" width="1.81" height="352.27"/>
<rect x="958.41" y="251.72" width="1.81" height="396.28"/>
<rect x="960.22" y="318.55" width="1.81" height="329.45"/>
<rect x="962.03" y="393.07" width="1.81" height="254.93"/>
<rect x="963.84" y="392.25" width="1.81" height="255.75"/>
<rect x="965.65" y="216.88" width="1.81" height="431.12"/>
<rect x="967.46" y="205.25" width="1.81" height="442.75"/>
<rect x="969.27" y="171.56" width="1.81" height="476.44"/>
<rect x="971.08" y="240.72" width="1.81" height="407.28"/>
<rect x="972.89" y="67.20" width="1.81" height="580.80"/>
<rect x="974.70" y="193.15" width="1.81" height="454.85"/>
<rect x="976.51" y="303.70" width="1.81" height="344.30"/>
<rect x="978.32" y="268.23" width="1.81" height="379.77"/>
<rect x="980.13" y="135.95" width="1.81" height="512.05"/>
<rect x="981.94" y="345.23" width="1.81" height="302.77"/>
<rect x="983.75" y="466.23" width="1.81" height="181.78"/>
<rect x="985.56" y="439.38" width="1.81" height="208.62"/>
<rect x="987.37" y="501.15" width="1.81" height="146.85"/>
<rect x="989.18" y="513.25" width="1.81" height="134.75"/>
<rect x="990.99" y="551.59" width="1.81" height="96.42"/>
<rect x="992.80" y="585.02" width="1.81" height="62.98"/>
<rect x="994.61" y="637.00" width="1.81" height="11.00"/>
<rect x="996.42" y="626.14" width="1.81" height="21.86"/>
<rect x="998.23" y="626.14" width="1.81" height="21.86"/>
</g>
<polygon points="96.5,648.0 96.5,637.91 98.5,637.77 100.5,637.62 102.5,637.47 104.5,637.32 106.5,637.17 108.5,637.01 110.5,636.86 112.5,636.70 114.5,636.54 116.5,636.38 118.5,636.22 120.5,636.06 122.5,635.90 124.5,635.73 126.5,635.56 128.5,635.39 130.5,635.22 132.5,635.05 134.5,634.88 136.5,634.70 138.5,634.53 140.5,634.35 142.5,634.17 144.5,633.99 146.5,633.81 148.5,633.62 150.5,633.44 152.5,633.25 154.5,633.06 156.5,632.87 158.5,632.68 160.5,632.49 162.5,632.29 164.5,632.10 166.5,631.90 168.5,631.70 170.5,631.50 172.5,631.29 174.5,631.09 176.5,630.89 178.5,630.68 180.5,630.47 182.5,630.26 184.5,630.05 186.5,629.84 188.5,629.62 190.5,629.40 192.5,629.19 194.5,628.97 196.5,628.75 198.5,628.53 200.5,628.30 202.5,628.08 204.5,627.85 206.5,627.62 208.5,627.40 210.5,627.17 212.5,626.93 214.5,626.70 216.5,626.47 218.5,626.23 220.5,625.99 222.5,625.75 224.5,625.51 226.5,625.27 228.5,625.03 230.5,624.79 232.5,624.54 234.5,624.29 236.5,624.05 238.5,623.80 240.5,623.55 242.5,623.30 244.5,623.04 246.5,622.79 248.5,622.53 250.5,622.28 252.5,622.02 254.5,621.76 256.5,621.50 258.5,621.24 260.5,620.98 262.5,620.72 264.5,620.45 266.5,620.19 268.5,619.92 270.5,619.65 272.5,619.39 274.5,619.12 276.5,618.85 278.5,618.58 280.5,618.30 282.5,618.03 284.5,617.76 286.5,617.48 288.5,617.21 290.5,616.93 292.5,616.65 294.5,616.38 296.5,616.10 298.5,615.82 300.5,615.54 302.5,615.26 304.5,614.98 306.5,614.70 308.5,614.41 310.5,614.13 312.5,613.85 314.5,613.56 316.5,613.28 318.5,613.00 320.5,612.71 322.5,612.42 324.5,612.14 326.5,611.85 328.5,611.57 330.5,611.28 332.5,610.99 334.5,610.70 336.5,610.42 338.5,610.13 340.5,609.84 342.5,609.55 344.5,609.26 346.5,608.97 348.5,608.69 350.5,608.40 352.5,608.11 354.5,607.82 356.5,607.53 358.5,607.24 360.5,606.96 362.5,606.67 364.5,606.38 366.5,606.09 368.5,605.81 370.5,605.52 372.5,605.23 374.5,604.95 376.5,604.66 378.5,604.38 380.5,604.09 382.5,603.81 384.5,603.52 386.5,603.24 388.5,602.96 390.5,602.67 392.5,602.39 394.5,602.11 396.5,601.83 398.5,601.55 400.5,601.27 402.5,601.00 404.5,600.72 406.5,600.44 408.5,600.17 410.5,599.90 412.5,599.62 414.5,599.35 416.5,599.08 418.5,598.81 420.5,598.54 422.5,598.27 424.5,598.01 426.5,597.74 428.5,597.48 430.5,597.22 432.5,596.96 434.5,596.70 436.5,596.44 438.5,596.18 440.5,595.93 442.5,595.67 444.5,595.42 446.5,595.17 448.5,594.92 450.5,594.67 452.5,594.43 454.5,594.18 456.5,593.94 458.5,593.70 460.5,593.46 462.5,593.22 464.5,592.99 466.5,592.76 468.5,592.53 470.5,592.30 472.5,592.07 474.5,591.85 476.5,591.62 478.5,591.40 480.5,591.18 482.5,590.97 484.5,590.75 486.5,590.54 488.5,590.33 490.5,590.12 492.5,589.92 494.5,589.72 496.5,589.51 498.5,589.32 500.5,589.12 502.5,588.93 504.5,588.74 506.5,588.55 508.5,588.36 510.5,588.18 512.5,588.00 514.5,587.82 516.5,587.65 518.5,587.48 520.5,587.31 522.5,587.14 524.5,586.98 526.5,586.81 528.5,586.66 530.5,586.50 532.5,586.35 534.5,586.20 536.5,586.05 538.5,585.91 540.5,585.77 542.5,585.63 544.5,585.49 546.5,585.36 548.5,585.23 550.5,585.11 552.5,584.98 554.5,584.86 556.5,584.75 558.5,584.63 560.5,584.52 562.5,584.41 564.5,584.31 566.5,584.21 568.5,584.11 570.5,584.02 572.5,583.93 574.5,583.84 576.5,583.75 578.5,583.67 580.5,583.59 582.5,583.52 584.5,583.45 586.5,583.38 588.5,583.32 590.5,583.25 592.5,583.20 594.5,583.14 596.5,583.09 598.5,583.04 600.5,583.00 602.5,582.96 604.5,582.92 606.5,582.88 608.5,582.85 610.5,582.83 612.5,582.80 614.5,582.78 616.5,582.76 618.5,582.75 620.5,582.74 622.5,582.73 624.5,582.73 626.5,582.73 628.5,582.73 630.5,582.74 632.5,582.75 634.5,582.76 636.5,582.78 638.5,582.80 640.5,582.83 642.5,582.85 644.5,582.89 646.5,582.92 648.5,582.96 650.5,583.00 652.5,583.04 654.5,583.09 656.5,583.14 658.5,583.20 660.5,583.26 662.5,583.32 664.5,583.38 666.5,583.45 668.5,583.52 670.5,583.60 672.5,583.67 674.5,583.76 676.5,583.84 678.5,583.93 680.5,584.02 682.5,584.11 684.5,584.21 686.5,584.31 688.5,584.42 690.5,584.53 692.5,584.64 694.5,584.75 696.5,584.87 698.5,584.99 700.5,585.11 702.5,585.24 704.5,585.36 706.5,585.50 708.5,585.63 710.5,585.77 712.5,585.91 714.5,586.05 716.5,586.20 718.5,586.35 720.5,586.50 722.5,586.66 724.5,586.82 726.5,586.98 728.5,587.14 730.5,587.31 732.5,587.48 734.5,587.65 736.5,587.83 738.5,588.01 740.5,588.19 742.5,588.37 744.5,588.55 746.5,588.74 748.5,588.93 750.5,589.13 752.5,589.32 754.5,589.52 756.5,589.72 758.5,589.92 760.5,590.13 762.5,590.34 764.5,590.55 766.5,590.76 768.5,590.97 770.5,591.19 772.5,591.41 774.5,591.63 776.5,591.85 778.5,592.08 780.5,592.30 782.5,592.53 784.5,592.76 786.5,593.00 788.5,593.23 790.5,593.47 792.5,593.71 794.5,593.95 796.5,594.19 798.5,594.43 800.5,594.68 802.5,594.93 804.5,595.18 806.5,595.43 808.5,595.68 810.5,595.93 812.5,596.19 814.5,596.44 816.5,596.70 818.5,596.96 820.5,597.22 822.5,597.49 824.5,597.75 826.5,598.01 828.5,598.28 830.5,598.55 832.5,598.82 834.5,599.09 836.5,599.36 838.5,599.63 840.5,599.90 842.5,600.18 844.5,600.45 846.5,600.73 848.5,601.00 850.5,601.28 852.5,601.56 854.5,601.84 856.5,602.12 858.5,602.40 860.5,602.68 862.5,602.96 864.5,603.25 866.5,603.53 868.5,603.81 870.5,604.10 872.5,604.38 874.5,604.67 876.5,604.95 878.5,605.24 880.5,605.53 882.5,605.81 884.5,606.10 886.5,606.39 888.5,606.68 890.5,606.96 892.5,607.25 894.5,607.54 896.5,607.83 898.5,608.12 900.5,608.41 902.5,608.69 904.5,608.98 906.5,609.27 908.5,609.56 910.5,609.85 912.5,610.14 914.5,610.42 916.5,610.71 918.5,611.00 920.5,611.29 922.5,611.57 924.5,611.86 926.5,612.15 928.5,612.43 930.5,612.72 932.5,613.00 934.5,613.29 936.5,613.57 938.5,613.86 940.5,614.14 942.5,614.42 944.5,614.70 946.5,614.99 948.5,615.27 950.5,615.55 952.5,615.83 954.5,616.11 956.5,616.38 958.5,616.66 960.5,616.94 962.5,617.21 964.5,617.49 966.5,617.76 968.5,618.04 970.5,618.31 972.5,618.58 974.5,618.85 976.5,619.12 978.5,619.39 980.5,619.66 982.5,619.93 984.5,620.19 986.5,620.46 988.5,620.72 990.5,620.99 992.5,621.25 994.5,621.51 996.5,621.77 998.5,622.03 999.5,622.16 999.5,648.0" fill="rgba(0,0,0,0.2)"/>
<polyline points="96.5,637.91 98.5,637.77 100.5,637.62 102.5,637.47 104.5,637.32 106.5,637.17 108.5,637.01 110.5,636.86 112.5,636.70 114.5,636.54 116.5,636.38 118.5,636.22 120.5,636.06 122.5,635.90 124.5,635.73 126.5,635.56 128.5,635.39 130.5,635.22 132.5,635.05 134.5,634.88 136.5,634.70 138.5,634.53 140.5,634.35 142.5,634.17 144.5,633.99 146.5,633.81 148.5,633.62 150.5,633.44 152.5,633.25 154.5,633.06 156.5,632.87 158.5,632.68 160.5,632.49 162.5,632.29 164.5,632.10 166.5,631.90 168.5,631.70 170.5,631.50 172.5,631.29 174.5,631.09 176.5,630.89 178.5,630.68 180.5,630.47 182.5,630.26 184.5,630.05 186.5,629.84 188.5,629.62 190.5,629.40 192.5,629.19 194.5,628.97 196.5,628.75 198.5,628.53 200.5,628.30 202.5,628.08 204.5,627.85 206.5,627.62 208.5,627.40 210.5,627.17 212.5,626.93 214.5,626.70 216.5,626.47 218.5,626.23 220.5,625.99 222.5,625.75 224.5,625.51 226.5,625.27 228.5,625.03 230.5,624.79 232.5,624.54 234.5,624.29 236.5,624.05 238.5,623.80 240.5,623.55 242.5,623.30 244.5,623.04 246.5,622.79 248.5,622.53 250.5,622.28 252.5,622.02 254.5,621.76 256.5,621.50 258.5,621.24 260.5,620.98 262.5,620.72 264.5,620.45 266.5,620.19 268.5,619.92 270.5,619.65 272.5,619.39 274.5,619.12 276.5,618.85 278.5,618.58 280.5,618.30 282.5,618.03 284.5,617.76 286.5,617.48 288.5,617.21 290.5,616.93 292.5,616.65 294.5,616.38 296.5,616.10 298.5,615.82 300.5,615.54 302.5,615.26 304.5,614.98 306.5,614.70 308.5,614.41 310.5,614.13 312.5,613.85 314.5,613.56 316.5,613.28 318.5,613.00 320.5,612.71 322.5,612.42 324.5,612.14 326.5,611.85 328.5,611.57 330.5,611.28 332.5,610.99 334.5,610.70 336.5,610.42 338.5,610.13 340.5,609.84 342.5,609.55 344.5,609.26 346.5,608.97 348.5,608.69 350.5,608.40 352.5,608.11 354.5,607.82 356.5,607.53 358.5,607.24 360.5,606.96 362.5,606.67 364.5,606.38 366.5,606.09 368.5,605.81 370.5,605.52 372.5,605.23 374.5,604.95 376.5,604.66 378.5,604.38 380.5,604.09 382.5,603.81 384.5,603.52 386.5,603.24 388.5,602.96 390.5,602.67 392.5,602.39 394.5,602.11 396.5,601.83 398.5,601.55 400.5,601.27 402.5,601.00 404.5,600.72 406.5,600.44 408.5,600.17 410.5,599.90 412.5,599.62 414.5,599.35 416.5,599.08 418.5,598.81 420.5,598.54 422.5,598.27 424.5,598.01 426.5,597.74 428.5,597.48 430.5,597.22 432.5,596.96 434.5,596.70 436.5,596.44 438.5,596.18 440.5,595.93 442.5,595.67 444.5,595.42 446.5,595.17 448.5,594.92 450.5,594.67 452.5,594.43 454.5,594.18 456.5,593.94 458.5,593.70 460.5,593.46 462.5,593.22 464.5,592.99 466.5,592.76 468.5,592.53 470.5,592.30 472.5,592.07 474.5,591.85 476.5,591.62 478.5,591.40 480.5,591.18 482.5,590.97 484.5,590.75 486.5,590.54 488.5,590.33 490.5,590.12 492.5,589.92 494.5,589.72 496.5,589.51 498.5,589.32 500.5,589.12 502.5,588.93 504.5,588.74 506.5,588.55 508.5,588.36 510.5,588.18 512.5,588.00 514.5,587.82 516.5,587.65 518.5,587.48 520.5,587.31 522.5,587.14 524.5,586.98 526.5,586.81 528.5,586.66 530.5,586.50 532.5,586.35 534.5,586.20 536.5,586.05 538.5,585.91 540.5,585.77 542.5,585.63 544.5,585.49 546.5,585.36 548.5,585.23 550.5,585.11 552.5,584.98 554.5,584.86 556.5,584.75 558.5,584.63 560.5,584.52 562.5,584.41 564.5,584.31 566.5,584.21 568.5,584.11 570.5,584.02 572.5,583.93 574.5,583.84 576.5,583.75 578.5,583.67 580.5,583.59 582.5,583.52 584.5,583.45 586.5,583.38 588.5,583.32 590.5,583.25 592.5,583.20 594.5,583.14 596.5,583.09 598.5,583.04 600.5,583.00 602.5,582.96 604.5,582.92 606.5,582.88 608.5,582.85 610.5,582.83 612.5,582.80 614.5,582.78 616.5,582.76 618.5,582.75 620.5,582.74 622.5,582.73 624.5,582.73 626.5,582.73 628.5,582.73 630.5,582.74 632.5,582.75 634.5,582.76 636.5,582.78 638.5,582.80 640.5,582.83 642.5,582.85 644.5,582.89 646.5,582.92 648.5,582.96 650.5,583.00 652.5,583.04 654.5,583.09 656.5,583.14 658.5,583.20 660.5,583.26 662.5,583.32 664.5,583.38 666.5,583.45 668.5,583.52 670.5,583.60 672.5,583.67 674.5,583.76 676.5,583.84 678.5,583.93 680.5,584.02 682.5,584.11 684.5,584.21 686.5,584.31 688.5,584.42 690.5,584.53 692.5,584.64 694.5,584.75 696.5,584.87 698.5,584.99 700.5,585.11 702.5,585.24 704.5,585.36 706.5,585.50 708.5,585.63 710.5,585.77 712.5,585.91 714.5,586.05 716.5,586.20 718.5,586.35 720.5,586.50 722.5,586.66 724.5,586.82 726.5,586.98 728.5,587.14 730.5,587.31 732.5,587.48 734.5,587.65 736.5,587.83 738.5,588.01 740.5,588.19 742.5,588.37 744.5,588.55 746.5,588.74 748.5,588.93 750.5,589.13 752.5,589.32 754.5,589.52 756.5,589.72 758.5,589.92 760.5,590.13 762.5,590.34 764.5,590.55 766.5,590.76 768.5,590.97 770.5,591.19 772.5,591.41 774.5,591.63 776.5,591.85 778.5,592.08 780.5,592.30 782.5,592.53 784.5,592.76 786.5,593.00 788.5,593.23 790.5,593.47 792.5,593.71 794.5,593.95 796.5,594.19 798.5,594.43 800.5,594.68 802.5,594.93 804.5,595.18 806.5,595.43 808.5,595.68 810.5,595.93 812.5,596.19 814.5,596.44 816.5,596.70 818.5,596.96 820.5,597.22 822.5,597.49 824.5,597.75 826.5,598.01 828.5,598.28 830.5,598.55 832.5,598.82 834.5,599.09 836.5,599.36 838.5,599.63 840.5,599.90 842.5,600.18 844.5,600.45 846.5,600.73 848.5,601.00 850.5,601.28 852.5,601.56 854.5,601.84 856.5,602.12 858.5,602.40 860.5,602.68 862.5,602.96 864.5,603.25 866.5,603.53 868.5,603.81 870.5,604.10 872.5,604.38 874.5,604.67 876.5,604.95 878.5,605.24 880.5,605.53 882.5,605.81 884.5,606.10 886.5,606.39 888.5,606.68 890.5,606.96 892.5,607.25 894.5,607.54 896.5,607.83 898.5,608.12 900.5,608.41 902.5,608.69 904.5,608.98 906.5,609.27 908.5,609.56 910.5,609.85 912.5,610.14 914.5,610.42 916.5,610.71 918.5,611.00 920.5,611.29 922.5,611.57 924.5,611.86 926.5,612.15 928.5,612.43 930.5,612.72 932.5,613.00 934.5,613.29 936.5,613.57 938.5,613.86 940.5,614.14 942.5,614.42 944.5,614.70 946.5,614.99 948.5,615.27 950.5,615.55 952.5,615.83 954.5,616.11 956.5,616.38 958.5,616.66 960.5,616.94 962.5,617.21 964.5,617.49 966.5,617.76 968.5,618.04 970.5,618.31 972.5,618.58 974.5,618.85 976.5,619.12 978.5,619.39 980.5,619.66 982.5,619.93 984.5,620.19 986.5,620.46 988.5,620.72 990.5,620.99 992.5,621.25 994.5,621.51 996.5,621.77 998.5,622.03 999.5,622.16" fill="none" stroke="rgba(0,0,0,0.3)" stroke-width="1.8" stroke-linecap="square"/>
<rect x="353" y="735" width="14" height="14" fill="#7e96fc"/>
<text x="371.28" y="747.0" font-size="15.6" fill="#2e2e2e" textLength="50.30" lengthAdjust="spacingAndGlyphs">Density</text>
<text x="426.28" y="747.0" font-size="15.6" fill="#2e2e2e" textLength="75.48" lengthAdjust="spacingAndGlyphs">histrogram</text>
<rect x="513.25" y="733.25" width="17.5" height="17.5" fill="#c4c4c4" stroke="#999999" stroke-width="2.5"/>
<text x="536.28" y="747.0" font-size="15.6" fill="#2e2e2e" textLength="51.94" lengthAdjust="spacingAndGlyphs">Normal</text>
<text x="591.62" y="747.0" font-size="15.6" fill="#2e2e2e" textLength="79.68" lengthAdjust="spacingAndGlyphs">distribution</text>
</svg>
<svg width="1024" height="768" viewBox="0 0 1024 768" font-family='"Liberation Sans", sans-serif' style="position:absolute;left:0;top:0;will-change:transform"><g font-size="12.2" fill="#4a4a4a" stroke="#4a4a4a" stroke-width="0.25" text-anchor="end">
<text x="79.6" y="652.50">0</text>
<text x="79.6" y="625.00">0.1</text>
<text x="79.6" y="597.50">0.2</text>
<text x="79.6" y="570.00">0.3</text>
<text x="79.6" y="542.50">0.4</text>
<text x="79.6" y="515.00">0.5</text>
<text x="79.6" y="487.50">0.6</text>
<text x="79.6" y="460.00">0.7</text>
<text x="79.6" y="432.50">0.8</text>
<text x="79.6" y="405.00">0.9</text>
<text x="79.6" y="377.50">1</text>
<text x="79.6" y="350.00">1.1</text>
<text x="79.6" y="322.50">1.2</text>
<text x="79.6" y="295.00">1.3</text>
<text x="79.6" y="267.50">1.4</text>
<text x="79.6" y="240.00">1.5</text>
<text x="79.6" y="212.50">1.6</text>
<text x="79.6" y="185.00">1.7</text>
<text x="79.6" y="157.50">1.8</text>
<text x="79.6" y="130.00">1.9</text>
<text x="79.6" y="102.50">2</text>
<text x="79.6" y="60.15">2.154</text>
</g>
<g font-size="12.2" fill="#4a4a4a" stroke="#4a4a4a" stroke-width="0.25">
<text transform="translate(90.35,659.9) rotate(90)">-3.200</text>
<text transform="translate(109.13,659.9) rotate(90)">-3.091</text>
<text transform="translate(127.22,659.9) rotate(90)">-2.981</text>
<text transform="translate(145.31,659.9) rotate(90)">-2.872</text>
<text transform="translate(163.39,659.9) rotate(90)">-2.762</text>
<text transform="translate(181.48,659.9) rotate(90)">-2.653</text>
<text transform="translate(199.56,659.9) rotate(90)">-2.543</text>
<text transform="translate(217.64,659.9) rotate(90)">-2.434</text>
<text transform="translate(235.73,659.9) rotate(90)">-2.324</text>
<text transform="translate(253.81,659.9) rotate(90)">-2.215</text>
<text transform="translate(271.90,659.9) rotate(90)">-2.105</text>
<text transform="translate(289.99,659.9) rotate(90)">-1.996</text>
<text transform="translate(308.07,659.9) rotate(90)">-1.886</text>
<text transform="translate(326.16,659.9) rotate(90)">-1.777</text>
<text transform="translate(344.24,659.9) rotate(90)">-1.667</text>
<text transform="translate(362.33,659.9) rotate(90)">-1.558</text>
<text transform="translate(380.41,659.9) rotate(90)">-1.448</text>
<text transform="translate(398.50,659.9) rotate(90)">-1.339</text>
<text transform="translate(416.58,659.9) rotate(90)">-1.230</text>
<text transform="translate(434.67,659.9) rotate(90)">-1.120</text>
<text transform="translate(452.75,659.9) rotate(90)">-1.011</text>
<text transform="translate(470.84,659.9) rotate(90)">-0.901</text>
<text transform="translate(488.92,659.9) rotate(90)">-0.792</text>
<text transform="translate(507.01,659.9) rotate(90)">-0.682</text>
<text transform="translate(525.09,659.9) rotate(90)">-0.573</text>
<text transform="translate(543.17,659.9) rotate(90)">-0.463</text>
<text transform="translate(561.26,659.9) rotate(90)">-0.354</text>
<text transform="translate(579.35,659.9) rotate(90)">-0.244</text>
<text transform="translate(597.43,659.9) rotate(90)">-0.135</text>
<text transform="translate(615.51,659.9) rotate(90)">-0.025</text>
<text transform="translate(633.60,659.1) rotate(90)">0.084</text>
<text transform="translate(651.68,659.1) rotate(90)">0.194</text>
<text transform="translate(669.77,659.1) rotate(90)">0.303</text>
<text transform="translate(687.86,659.1) rotate(90)">0.413</text>
<text transform="translate(705.94,659.1) rotate(90)">0.522</text>
<text transform="translate(724.02,659.1) rotate(90)">0.632</text>
<text transform="translate(742.11,659.1) rotate(90)">0.741</text>
<text transform="translate(760.19,659.1) rotate(90)">0.850</text>
<text transform="translate(778.28,659.1) rotate(90)">0.960</text>
<text transform="translate(796.37,659.1) rotate(90)">1.069</text>
<text transform="translate(814.45,659.1) rotate(90)">1.179</text>
<text transform="translate(832.53,659.1) rotate(90)">1.288</text>
<text transform="translate(850.62,659.1) rotate(90)">1.398</text>
<text transform="translate(868.71,659.1) rotate(90)">1.507</text>
<text transform="translate(886.79,659.1) rotate(90)">1.617</text>
<text transform="translate(904.88,659.1) rotate(90)">1.726</text>
<text transform="translate(922.96,659.1) rotate(90)">1.836</text>
<text transform="translate(941.04,659.1) rotate(90)">1.945</text>
<text transform="translate(959.13,659.1) rotate(90)">2.055</text>
<text transform="translate(977.22,659.1) rotate(90)">2.164</text>
</g></svg>
</body></html>
